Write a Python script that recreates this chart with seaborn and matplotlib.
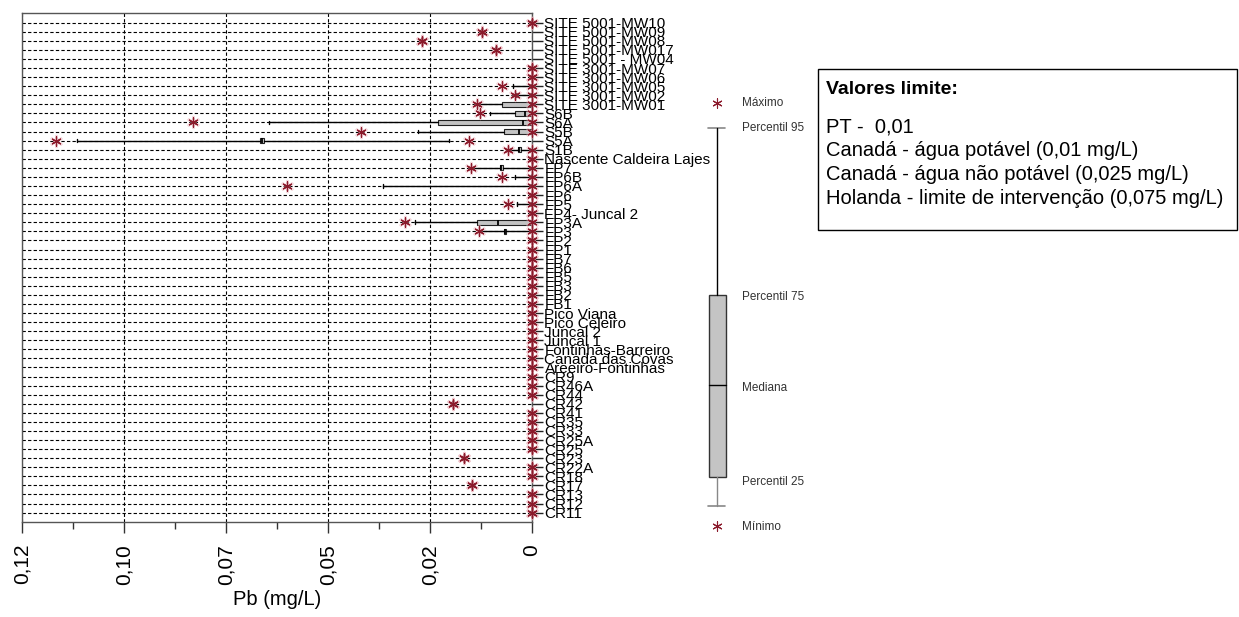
import numpy as np
import matplotlib
matplotlib.use("Agg")
import matplotlib.pyplot as plt
from matplotlib.patches import Rectangle
from matplotlib.ticker import MultipleLocator, FuncFormatter
import seaborn as sns

# sampling points, top to bottom
sites = ["SITE 5001-MW10", "SITE 5001-MW09", "SITE 5001-MW08", "SITE 5001-MW017",
         "SITE 5001 - MW04", "SITE 3001-MW07", "SITE 3001-MW06", "SITE 3001-MW05",
         "SITE 3001-MW02", "SITE 3001-MW01", "S6B", "S6A", "S5B", "S5A", "S1B",
         "Nascente Caldeira Lajes", "FP7", "FP6B", "FP6A", "FP6", "FP5", "FP4- Juncal 2",
         "FP3A", "FP3", "FP2", "FP1", "FB7", "FB6", "FB5", "FB3", "FB2", "FB1",
         "Pico Viana", "Pico Celeiro", "Juncal 2", "Juncal 1", "Fontinhas-Barreiro",
         "Canada das Covas", "Areeiro-Fontinhas", "CR9", "CR46A", "CR44", "CR42", "CR41",
         "CR35", "CR33", "CR25A", "CR25", "CR23", "CR22A", "CR18", "CR17", "CR13",
         "CR12", "CR11"]

nan = np.nan
# Pb (mg/L) summary per site: minimum, P5, P25, median, P75, P95, maximum
pb_min = [0, 0.0117, 0.0259, 0.0085, nan, 0, 0, 0, 0, 0, 0, 0, 0, 0.0148, 0,
          0, 0, 0, 0, 0, 0, 0, 0, 0] + [0] * 18 + [0.0186, 0, 0, 0, 0, 0, 0.016, 0, 0, 0.0141, 0, 0, 0]
pb_p5 = [0, 0.0117, 0.0259, 0.0085, nan, 0, 0, 0, 0, 0, 0, 0, 0, 0.0195, 0,
         0, 0, 0, 0, 0, 0, 0, 0, 0] + [0] * 18 + [0.0186, 0, 0, 0, 0, 0, 0.016, 0, 0, 0.0141, 0, 0, 0]
pb_p25 = [0, 0.0117, 0.0259, 0.0085, nan, 0, 0, 0, 0, 0, 0, 0, 0, 0.0630, 0.0027,
          0, 0.0069, 0, 0, 0, 0, 0, 0, 0.0061] + [0] * 18 + [0.0186, 0, 0, 0, 0, 0, 0.016, 0, 0, 0.0141, 0, 0, 0]
pb_med = [0, 0.0117, 0.0259, 0.0085, nan, 0, 0, 0, 0, 0.0003, 0.0016, 0.0021, 0.0030, 0.0635, 0.0030,
          0, 0.0072, 0, 0, 0, 0, 0, 0.0081, 0.0064] + [0] * 18 + [0.0186, 0, 0, 0, 0, 0, 0.016, 0, 0, 0.0141, 0, 0, 0]
pb_p75 = [0, 0.0117, 0.0259, 0.0085, nan, 0, 0, 0, 0, 0.0071, 0.0040, 0.0221, 0.0066, 0.0640, 0.0033,
          0, 0.0075, 0, 0, 0, 0, 0, 0.0130, 0.0067] + [0] * 18 + [0.0186, 0, 0, 0, 0, 0, 0.016, 0, 0, 0.0141, 0, 0, 0]
pb_p95 = [0, 0.0117, 0.0259, 0.0085, nan, 0, 0, 0.0044, 0.0038, 0.0125, 0.0099, 0.0619, 0.0268, 0.107, 0.0056,
          0, 0.0144, 0.0040, 0.035, 0, 0.0036, 0, 0.0275, 0.0125] + [0] * 18 + [0.0186, 0, 0, 0, 0, 0, 0.016, 0, 0, 0.0141, 0, 0, 0]
pb_max = [0, 0.0117, 0.0259, 0.0085, nan, 0, 0, 0.0071, 0.0040, 0.0129, 0.0122, 0.0797, 0.0402, 0.1119, 0.0056,
          0, 0.0144, 0.0071, 0.0577, 0, 0.0056, 0, 0.0299, 0.0125] + [0] * 18 + [0.0186, 0, 0, 0, 0, 0, 0.016, 0, 0, 0.0141, 0, 0, 0]

legend_items = ["Máximo", "Percentil 95", "Percentil 75", "Mediana", "Percentil 25", "Mínimo"]
limits_title = "Valores limite:"
limits_lines = ["PT -  0,01",
                "Canadá - água potável (0,01 mg/L)",
                "Canadá - água não potável (0,025 mg/L)",
                "Holanda - limite de intervenção (0,075 mg/L)"]

sns.set_theme(style="white")
plt.rcParams["font.family"] = ["Liberation Sans", "DejaVu Sans"]
plt.rcParams["text.color"] = "black"
plt.rcParams["axes.labelcolor"] = "black"

star_col = "#8b1a2b"
star = (6, 2, 0)

fig = plt.figure(figsize=(12.39, 6.17), dpi=100)
ax = fig.add_axes([22 / 1239, (617 - 521.7) / 617, 510 / 1239, 509 / 617])

pos = np.arange(len(sites))

# box statistics for matplotlib's bxp
stats = []
stat_pos = []
for i in range(len(sites)):
    if np.isnan(pb_med[i]):
        continue
    stats.append(dict(med=pb_med[i], q1=pb_p25[i], q3=pb_p75[i],
                      whislo=pb_p5[i], whishi=pb_p95[i], fliers=[]))
    stat_pos.append(i)

ax.bxp(stats, positions=stat_pos, orientation="horizontal", widths=0.55,
       capwidths=0.4, patch_artist=True, showfliers=False,
       boxprops=dict(facecolor="#c4c4c4", edgecolor="#222", lw=0.8),
       medianprops=dict(color="black", lw=1.3),
       whiskerprops=dict(color="black", lw=1),
       capprops=dict(color="black", lw=1), zorder=3)

# minimum and maximum as asterisks
pts_x = np.concatenate([pb_max, pb_min])
pts_y = np.concatenate([pos, pos])
ok = ~np.isnan(pts_x)
sns.scatterplot(x=pts_x[ok], y=pts_y[ok], marker=star, s=60, color="#eab0b8",
                linewidth=2.0, alpha=0.45, ax=ax, zorder=4, clip_on=False, legend=False)
sns.scatterplot(x=pts_x[ok], y=pts_y[ok], marker=star, s=45, color=star_col,
                linewidth=0.9, ax=ax, zorder=5, clip_on=False, legend=False)

ax.set_xlim(0.12, 0)
ax.set_ylim(len(sites), -1.1)
ax.xaxis.set_major_locator(MultipleLocator(0.024))
ax.xaxis.set_minor_locator(MultipleLocator(0.012))
ax.xaxis.set_major_formatter(FuncFormatter(
    lambda v, p: "0" if abs(v) < 1e-9 else f"{v:.2f}".replace(".", ",")))
ax.tick_params(axis="x", which="major", bottom=True, length=8, width=1, color="#333",
               labelsize=15, labelrotation=90, pad=8, labelcolor="black")
ax.tick_params(axis="x", which="minor", bottom=True, length=5, width=1, color="#333")

ax.set_yticks(pos)
ax.set_yticklabels(sites)
ax.yaxis.tick_right()
ax.tick_params(axis="y", right=True, left=False, length=8, width=1, color="#222",
               labelsize=11, pad=1, labelcolor="black")

ax.grid(True, axis="both", which="major", color="black", lw=0.8, linestyle=(0, (3, 2)))
for s in ax.spines.values():
    s.set_color("#555")
    s.set_linewidth(1)
ax.set_xlabel("Pb (mg/L)", fontsize=14.5, labelpad=4)
ax.set_ylabel("")

# explanatory drawings on the right, in pixel coordinates
lg = fig.add_axes([0, 0, 1, 1], facecolor="none")
lg.set_xlim(0, 1239)
lg.set_ylim(617, 0)
lg.axis("off")

lg.scatter([717, 717], [103, 526], marker=star, s=45, color=star_col, linewidth=0.8)
lg.plot([708, 725], [128, 128], color="#888", lw=1.2)
lg.plot([716.5, 716.5], [128, 295], color="black", lw=1)
lg.add_patch(Rectangle((709, 295), 16.5, 182, facecolor="#c4c4c4", edgecolor="#333", lw=1))
lg.plot([709, 725.5], [385, 385], color="black", lw=1)
lg.plot([716.5, 716.5], [477, 506], color="#888", lw=1)
lg.plot([708, 725], [506, 506], color="#888", lw=1.2)
for txt, yy in zip(legend_items, [103, 128, 297, 388, 482, 527]):
    lg.text(742, yy, txt, fontsize=8.5, color="#333", va="center", ha="left")

lg.add_patch(Rectangle((818, 69), 419, 161, facecolor="none", edgecolor="black", lw=1))
lg.text(826, 89, limits_title, fontsize=14, fontweight="bold", va="center", ha="left")
for txt, yy in zip(limits_lines, [127, 151, 174, 198]):
    lg.text(826, yy, txt, fontsize=14.5, va="center", ha="left")

fig.savefig("out.png", dpi=100)
